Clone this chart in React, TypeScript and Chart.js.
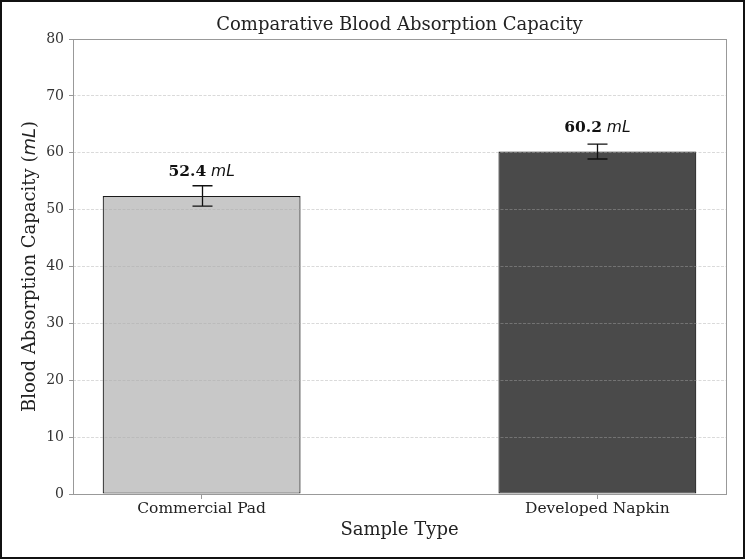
import { useEffect, useRef } from 'react';
import { Chart, registerables } from 'chart.js';

Chart.register(...registerables);

// Sample types and measured capacities (mL) with their standard deviations
const categories = ['Commercial Pad', 'Developed Napkin'];
const capacities = [52.4, 60.2];
const errors = [1.8, 1.3];
const yTicks = [0, 10, 20, 30, 40, 50, 60, 70, 80];

const CHART_TITLE = 'Comparative Blood Absorption Capacity';
const BAR_COLORS = ['#c8c8c8', '#4a4a4a'];
const SERIF = '"DejaVu Serif", serif';
const SANS = '"DejaVu Sans", sans-serif';

// draws text pieces with different fonts one after another, centred on x
const drawRuns = (ctx: CanvasRenderingContext2D, runs: [string, string][], x: number, y: number) => {
  let total = 0;
  runs.forEach(([text, font]) => {
    ctx.font = font;
    total += ctx.measureText(text).width;
  });
  let cx = x - total / 2;
  ctx.textAlign = 'left';
  runs.forEach(([text, font]) => {
    ctx.font = font;
    ctx.fillText(text, cx, y);
    cx += ctx.measureText(text).width;
  });
};

const overlayPlugin = {
  id: 'overlay',
  afterDraw(chart: any) {
    const { ctx, chartArea, scales } = chart;
    const x = scales.x;
    const y = scales.y;
    ctx.save();

    // plot frame
    ctx.strokeStyle = '#999';
    ctx.lineWidth = 1;
    ctx.strokeRect(
      Math.round(chartArea.left) + 0.5,
      Math.round(chartArea.top) + 0.5,
      Math.round(chartArea.right - chartArea.left),
      Math.round(chartArea.bottom - chartArea.top)
    );

    // title, centred over the plot area
    ctx.fillStyle = '#222';
    ctx.textBaseline = 'middle';
    drawRuns(ctx, [[CHART_TITLE, `18px ${SERIF}`]], (chartArea.left + chartArea.right) / 2, 23);

    // error bars
    ctx.strokeStyle = '#111';
    ctx.lineWidth = 1.3;
    capacities.forEach((v, i) => {
      const px = Math.round(x.getPixelForValue(i)) + 0.5;
      const top = y.getPixelForValue(v + errors[i]);
      const bot = y.getPixelForValue(v - errors[i]);
      ctx.beginPath();
      ctx.moveTo(px, top);
      ctx.lineTo(px, bot);
      ctx.moveTo(px - 10, top);
      ctx.lineTo(px + 10, top);
      ctx.moveTo(px - 10, bot);
      ctx.lineTo(px + 10, bot);
      ctx.stroke();
    });

    // value labels
    ctx.fillStyle = '#111';
    ctx.textBaseline = 'alphabetic';
    capacities.forEach((v, i) => {
      const px = x.getPixelForValue(i);
      const py = y.getPixelForValue(v + 3.5);
      drawRuns(ctx, [
        [v.toFixed(1), `bold 15.5px ${SERIF}`],
        [' ', `15.5px ${SERIF}`],
        ['mL', `italic 15.5px ${SANS}`]
      ], px, py);
    });

    // y axis title with italic unit
    ctx.fillStyle = '#222';
    ctx.translate(28, (chartArea.top + chartArea.bottom) / 2);
    ctx.rotate(-Math.PI / 2);
    ctx.textBaseline = 'middle';
    drawRuns(ctx, [
      ['Blood Absorption Capacity (', `18px ${SERIF}`],
      ['mL', `italic 18px ${SANS}`],
      [')', `18px ${SERIF}`]
    ], 0, 0);

    ctx.restore();
  }
};

const App = () => {
  const canvasRef = useRef<HTMLCanvasElement>(null);

  useEffect(() => {
    if (!canvasRef.current) return;
    const chart = new Chart(canvasRef.current, {
      type: 'bar',
      data: {
        datasets: [
          {
            data: capacities.map((v, i) => ({ x: i, y: v })),
            backgroundColor: BAR_COLORS,
            borderColor: '#1a1a1a',
            borderWidth: 1.2,
            borderSkipped: false,
            barPercentage: 0.5,
            categoryPercentage: 1
          }
        ]
      },
      options: {
        responsive: false,
        animation: false,
        layout: { padding: { left: 0, right: 17, top: 37, bottom: 0 } },
        plugins: {
          legend: { display: false },
          tooltip: { enabled: false },
          title: { display: false }
        },
        scales: {
          x: {
            type: 'linear',
            min: -0.325,
            max: 1.325,
            offset: false,
            afterBuildTicks: (scale: any) => {
              scale.ticks = categories.map((_, i) => ({ value: i }));
            },
            afterFit: (scale: any) => {
              scale.height = 63;
            },
            grid: {
              display: true,
              offset: false,
              drawOnChartArea: false,
              drawTicks: true,
              tickLength: 5,
              tickColor: '#999'
            },
            border: { display: false },
            ticks: {
              color: '#222',
              padding: 1,
              maxRotation: 0,
              autoSkip: false,
              font: { family: SERIF, size: 15.5 },
              callback: (value: any) => categories[value] ?? ''
            },
            title: {
              display: true,
              text: 'Sample Type',
              color: '#222',
              font: { family: SERIF, size: 18 },
              padding: { top: 0, bottom: 16.2 }
            }
          },
          y: {
            min: 0,
            max: 80,
            afterBuildTicks: (scale: any) => {
              scale.ticks = yTicks.map(v => ({ value: v }));
            },
            afterFit: (scale: any) => {
              scale.width = 71;
            },
            grid: {
              color: 'rgba(170, 170, 170, 0.55)',
              lineWidth: 0.8,
              z: 1,
              tickLength: 4,
              tickColor: '#999',
              tickWidth: 1,
              tickBorderDash: [],
              borderDash: [3, 1.5]
            } as any,
            border: { display: false, dash: [3, 1.5] },
            ticks: {
              color: '#333',
              padding: 5,
              font: { family: SERIF, size: 14 }
            }
          }
        }
      },
      plugins: [overlayPlugin]
    } as any);
    return () => chart.destroy();
  }, []);

  return (
    <div
      style={{
        position: 'fixed',
        left: 0,
        top: 0,
        width: 745,
        height: 559,
        boxSizing: 'border-box',
        border: '2px solid #111',
        background: '#fff'
      }}
    >
      <canvas ref={canvasRef} width={741} height={555} style={{ display: 'block' }} />
    </div>
  );
};

export default App;
